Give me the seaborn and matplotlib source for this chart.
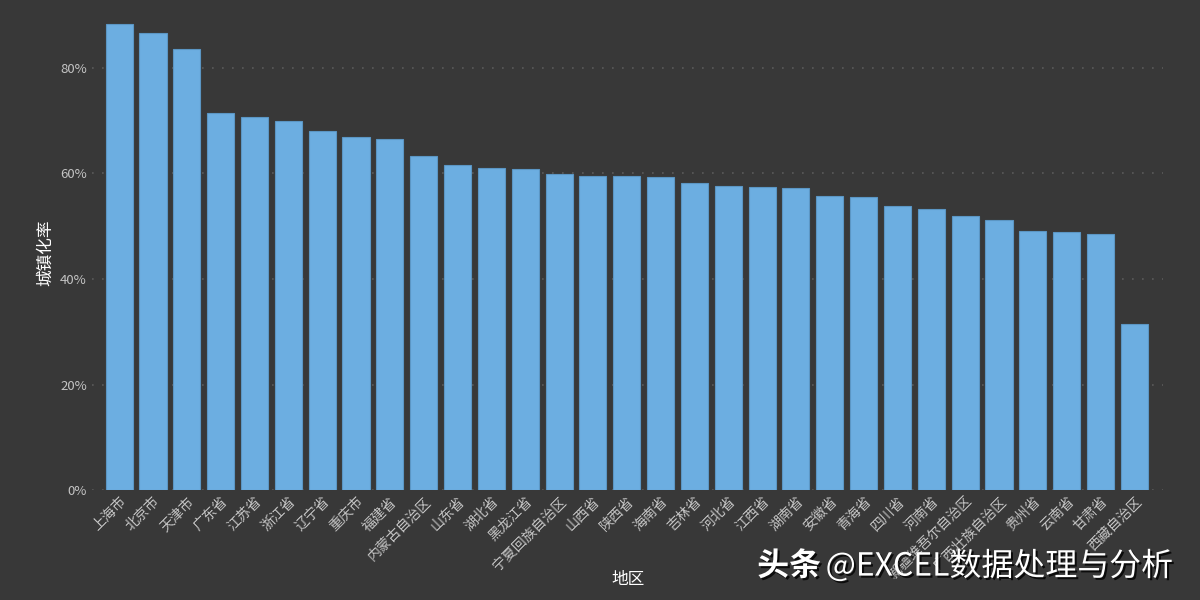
import numpy as np
import pandas as pd
import matplotlib
matplotlib.use("Agg")
import matplotlib.pyplot as plt
import matplotlib.patheffects as pe
from matplotlib.ticker import PercentFormatter
import seaborn as sns

regions = ["上海市", "北京市", "天津市", "广东省", "江苏省", "浙江省", "辽宁省", "重庆市",
           "福建省", "内蒙古自治区", "山东省", "湖北省", "黑龙江省", "宁夏回族自治区", "山西省",
           "陕西省", "海南省", "吉林省", "河北省", "江西省", "湖南省", "安徽省", "青海省",
           "四川省", "河南省", "新疆维吾尔自治区", "广西壮族自治区", "贵州省", "云南省",
           "甘肃省", "西藏自治区"]
rates = [88.30, 86.60, 83.48, 71.40, 70.61, 70.00, 68.11, 66.80, 66.50, 63.37, 61.51,
         61.00, 60.90, 59.86, 59.55, 59.43, 59.23, 58.27, 57.62, 57.42, 57.22, 55.81,
         55.52, 53.79, 53.21, 51.87, 51.09, 49.02, 48.91, 48.49, 31.54]

df = pd.DataFrame({"地区": regions, "城镇化率": np.array(rates) / 100})

bg = "#383838"
sns.set_style("dark")
plt.rcParams["font.family"] = ["Noto Sans CJK SC", "DejaVu Sans"]

fig = plt.figure(figsize=(12, 6), dpi=100, facecolor=bg)
ax = fig.add_axes([0.077, 0.183, 0.892, 0.792])
ax.set_facecolor(bg)

sns.barplot(data=df, x="地区", y="城镇化率", color="#6caee1", saturation=1,
            width=0.8, edgecolor="#5b96c4", linewidth=0.8, ax=ax, zorder=3)

ax.set_ylim(0, 0.90)
ax.set_xlim(-0.79, 30.84)
ax.set_yticks([0, 0.2, 0.4, 0.6, 0.8])
ax.yaxis.set_major_formatter(PercentFormatter(1.0, decimals=0))
ax.grid(axis="y", color="#5a5a5a", linestyle=(0, (1, 5)), linewidth=1.2, zorder=0)
ax.grid(axis="x", visible=False)
for s in ax.spines.values():
    s.set_visible(False)
ax.tick_params(axis="y", length=0, colors="#c4c4c4", labelsize=9.5, pad=4)
ax.tick_params(axis="x", length=0, colors="#c4c4c4", labelsize=10, pad=3)
plt.setp(ax.get_xticklabels(), rotation=45, ha="right", rotation_mode="anchor")

ax.set_ylabel("城镇化率", color="white", fontsize=12, labelpad=4)
ax.set_xlabel("地区", color="white", fontsize=12)
ax.xaxis.set_label_coords(0.5, -0.169)

shadow = [pe.withSimplePatchShadow(offset=(1.5, -1.5), shadow_rgbFace="black", alpha=0.8)]
fig.text(0.631, 0.056, "头条", color="white", fontsize=23, fontweight="bold",
         va="center", path_effects=shadow)
fig.text(0.688, 0.056, "@EXCEL数据处理与分析", color="white", fontsize=23,
         va="center", path_effects=shadow)

fig.savefig("out.png", dpi=100, facecolor=bg)
